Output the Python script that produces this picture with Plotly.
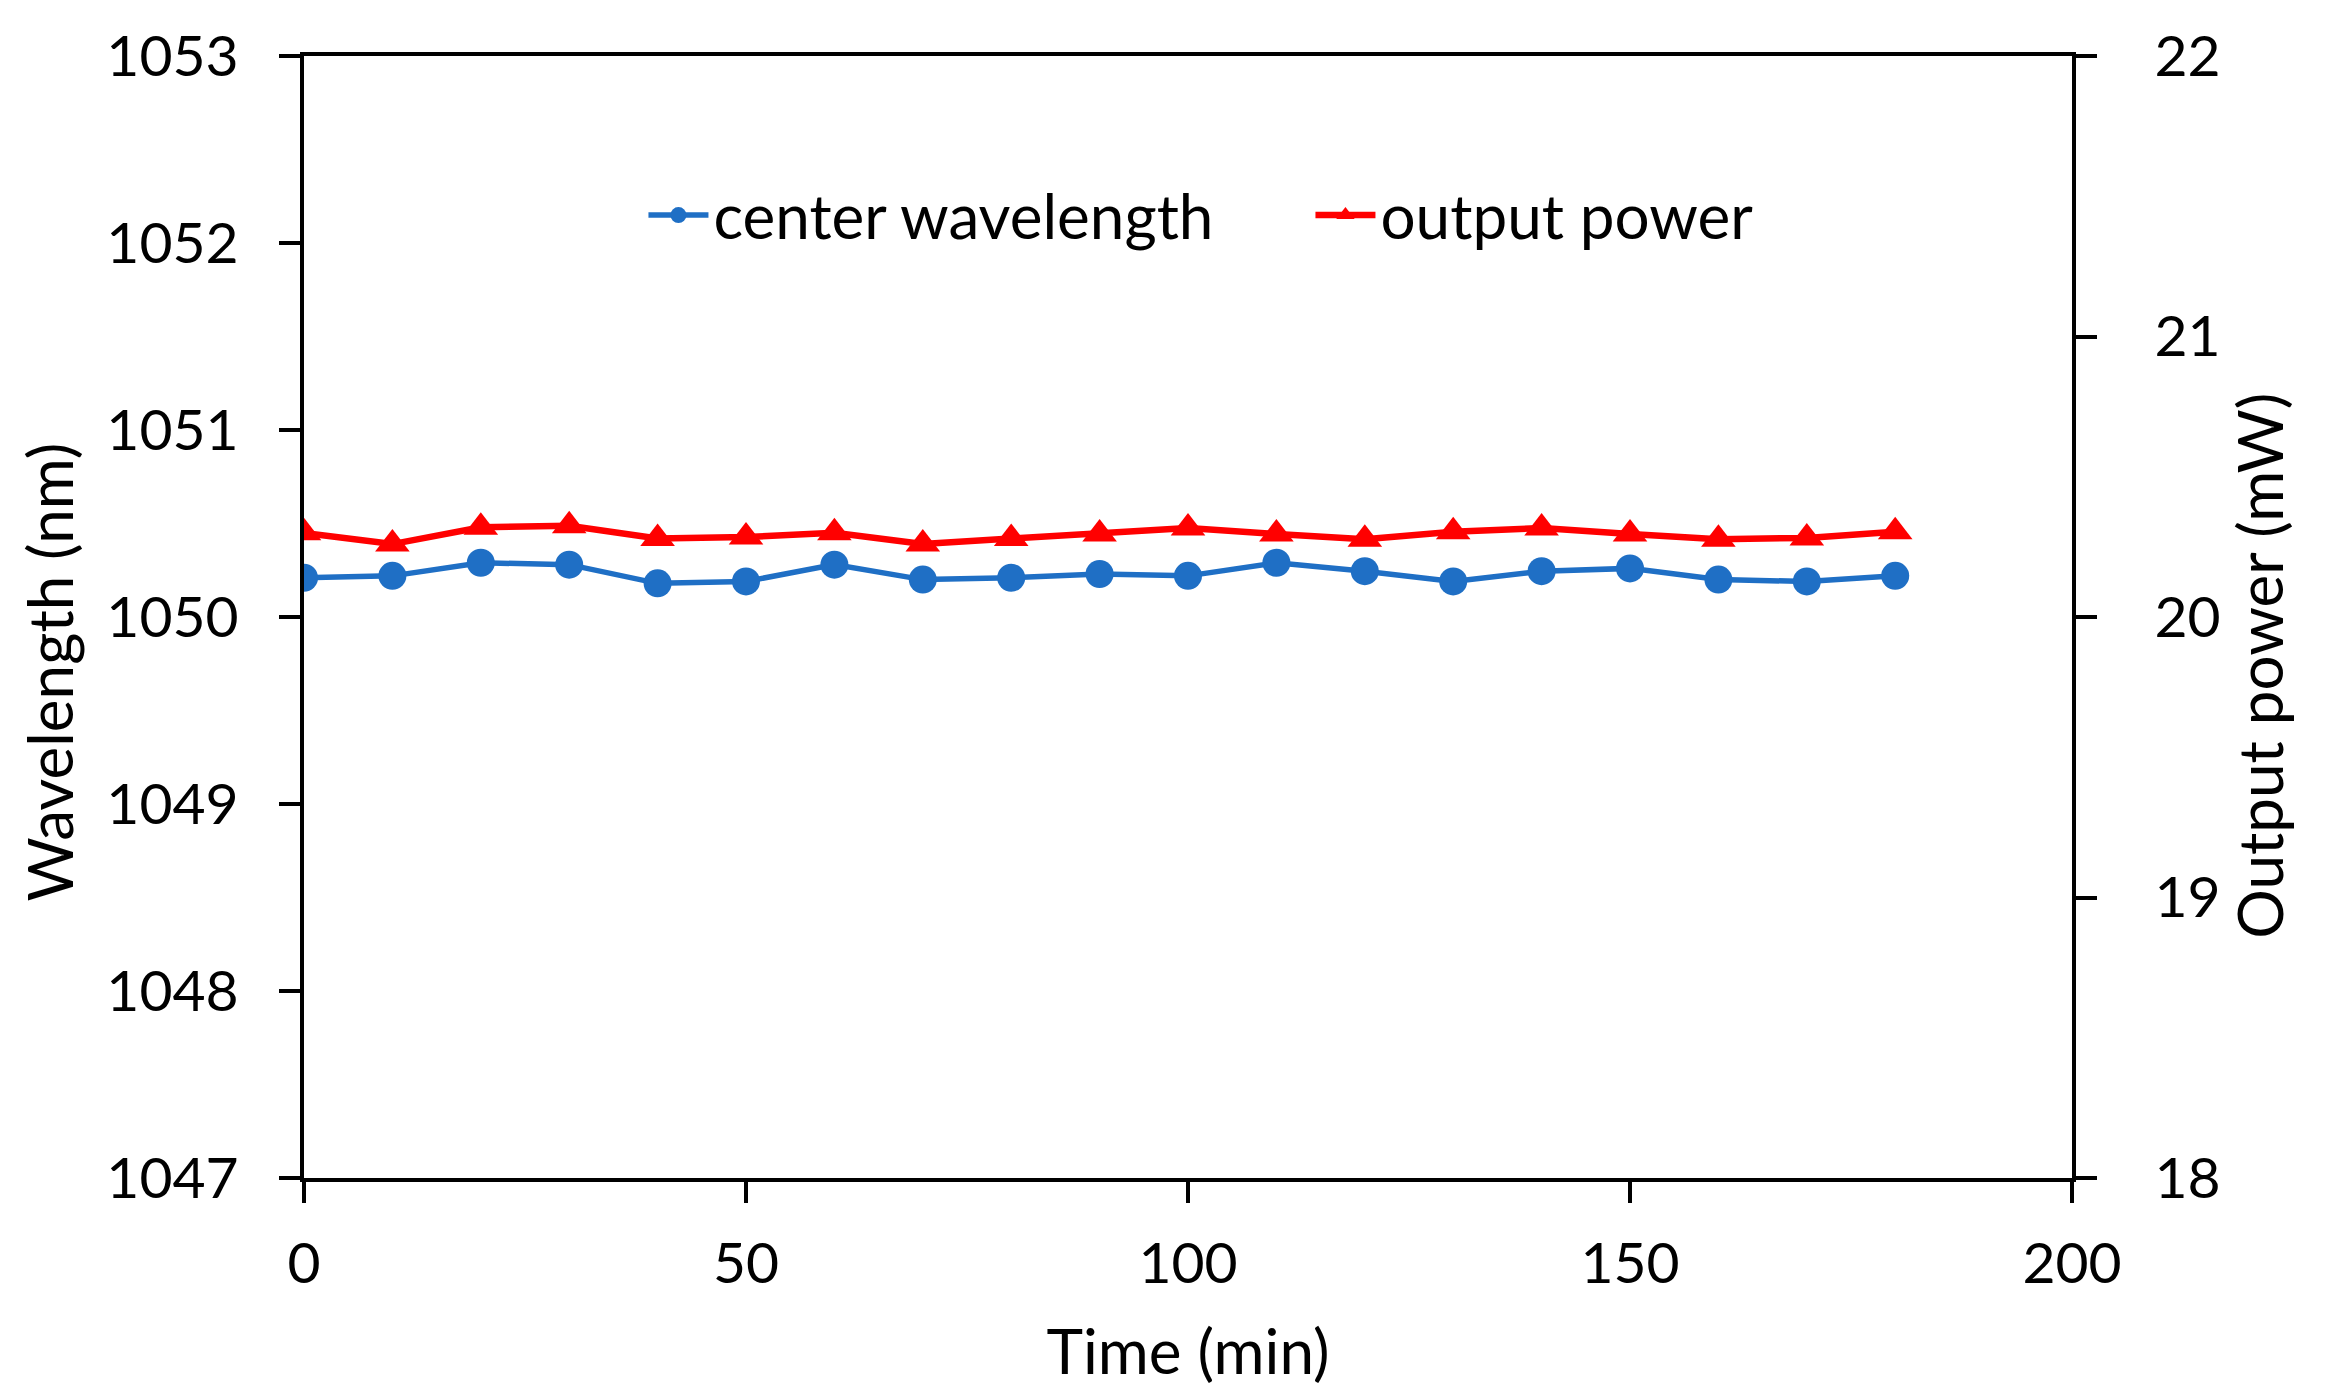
import plotly.graph_objects as go

time_min = [0, 10, 20, 30, 40, 50, 60, 70, 80, 90, 100, 110, 120, 130, 140, 150, 160, 170, 180]
center_wavelength = [1050.21, 1050.22, 1050.29, 1050.28, 1050.18, 1050.19, 1050.28, 1050.20,
                     1050.21, 1050.23, 1050.22, 1050.29, 1050.245, 1050.19, 1050.245, 1050.26,
                     1050.20, 1050.19, 1050.22]
output_power = [20.30, 20.26, 20.32, 20.325, 20.28, 20.285, 20.30, 20.26,
                20.28, 20.296, 20.317, 20.296, 20.277, 20.304, 20.317, 20.296,
                20.277, 20.282, 20.304]

FONT = "Lato, 'Open Sans', sans-serif"
fs_tick = 57
fs_text = 62

fig = go.Figure()
fig.add_trace(go.Scatter(
    x=time_min, y=center_wavelength, name="center wavelength",
    mode="lines+markers",
    line=dict(color="#1F6FC5", width=5.5),
    marker=dict(symbol="circle", size=28, color="#1F6FC5"),
    yaxis="y"))
fig.add_trace(go.Scatter(
    x=time_min, y=output_power, name="output power",
    mode="lines+markers",
    line=dict(color="#FF0000", width=6.5),
    marker=dict(symbol="triangle-up", size=30, color="#FF0000"),
    yaxis="y2"))

axis_common = dict(showgrid=False, zeroline=False, showline=True, linecolor="black",
                   linewidth=4, ticks="outside", ticklen=21, tickwidth=4, tickcolor="black",
                   tickfont=dict(family=FONT, size=fs_tick, color="black"))

fig.update_layout(
    width=2331, height=1393,
    margin=dict(l=296, r=267, t=48, b=223),
    paper_bgcolor="white", plot_bgcolor="white",
    font=dict(family=FONT, size=fs_text, color="black"),
    xaxis=dict(range=[0, 200], dtick=50, tick0=0, mirror=True,
               title=dict(text="Time (min)", font=dict(family=FONT, size=fs_text), standoff=37),
               ticklabelstandoff=12, **axis_common),
    yaxis=dict(range=[1047, 1053], dtick=1, tick0=1047,
               ticklabelstandoff=29, **axis_common),
    yaxis2=dict(range=[18, 22], dtick=1, tick0=18, overlaying="y", side="right",
                ticklabelstandoff=46, **axis_common),
    legend=dict(orientation="h", x=0.192, y=0.858, xanchor="left", yanchor="middle",
                font=dict(family=FONT, size=fs_text, color="black"),
                bgcolor="rgba(0,0,0,0)", itemwidth=60, entrywidth=592),
    showlegend=True,
    annotations=[
        dict(text="Wavelength (nm)", xref="paper", yref="paper", x=-0.1445, y=0.451,
             xanchor="center", yanchor="middle", textangle=-90, showarrow=False,
             borderpad=0,
             font=dict(family=FONT, size=fs_text, color="black")),
        dict(text="Output power (mW)", xref="paper", yref="paper", x=1.106, y=0.457,
             xanchor="center", yanchor="middle", textangle=-90, showarrow=False,
             borderpad=0,
             font=dict(family=FONT, size=fs_text, color="black")),
    ],
)

fig.write_html("out.html")
